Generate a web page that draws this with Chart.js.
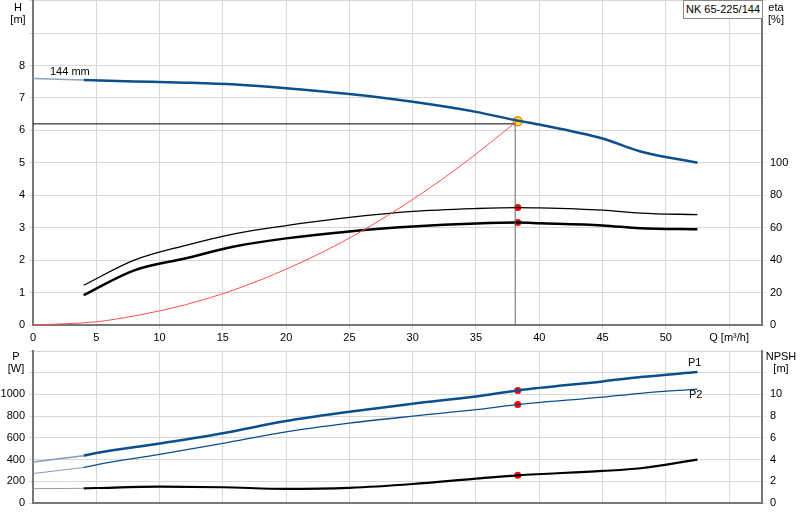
<!DOCTYPE html><html><head><meta charset="utf-8">
<script src="https://cdn.jsdelivr.net/npm/chart.js@4"></script>
<style>body{margin:0;background:#fff;font-family:"Liberation Sans",Arial,sans-serif;overflow:hidden}
#c1{position:absolute;left:0;top:-10px}#c2{position:absolute;left:0;top:340px}
.t{position:absolute;font-size:11px;color:#000;line-height:12px;text-align:center}
#box{position:absolute;left:683px;top:0;width:78px;height:17px;border:1px solid #888;font-size:11px;line-height:17px;text-align:center;background:#fff}
</style></head><body>
<canvas id="c1" width="800" height="354"></canvas>
<canvas id="c2" width="800" height="180"></canvas>
<div id="box">NK 65-225/144</div>
<div class="t" style="left:10px;top:1px;width:16px">H<br>[m]</div>
<div class="t" style="left:766px;top:1px;width:20px">eta<br>[%]</div>
<div class="t" style="left:6px;top:350px;width:20px">P<br>[W]</div>
<div class="t" style="left:764px;top:350px;width:34px">NPSH<br>[m]</div>
<div class="t" style="left:688px;top:356px">P1</div>
<div class="t" style="left:689px;top:388px">P2</div>
<div class="t" style="left:50px;top:65px">144 mm</div>
<script>
const Q=[4,8,12,16,20,25,30,35,38.3,40,45,48,52.5];
const H=[7.55,7.51,7.47,7.41,7.3,7.12,6.88,6.57,6.3,6.18,5.75,5.35,5.0];
const etaP=[24.5,40,49,56.4,61.3,66.3,70,71.8,72.4,72.2,70.8,69,68];
const etaE=[18.4,33.7,41,48.5,53.4,57.7,60.7,62.6,63.2,62.8,61.4,59.6,59];
const sysQ=[0,5,8,12,16,20,23,26,30,34,38.3];
const sysH=[0,0.1,0.28,0.62,1.1,1.72,2.27,2.9,3.87,4.97,6.3];
const Q2=[4,5,10,15,20,25,30,35,38.3,45,48,52.5];
const P1=[435,460,548,642,755,840,915,980,1037,1120,1160,1206];
const P2=[327,352,447,549,655,735,800,860,907,975,1010,1049];
const NPSH=[1.35,1.38,1.5,1.45,1.3,1.4,1.75,2.25,2.55,2.95,3.2,4.0];
const lead={q:[0,4],H:[7.6,7.55],P1:[377,435],P2:[271,327],N:[1.32,1.35]};
const duty={q:38.3,H:6.28,refH:6.2,refQ:38.1,etaP:72.4,etaE:63.2,P1:1037,P2:907,N:2.55};
const xy=(a,b)=>a.map((v,i)=>({x:v,y:b[i]}));
const F={family:"'Liberation Sans',Arial,sans-serif",size:11};
Chart.defaults.font=F;Chart.defaults.color='#000';
const blue='#0b4f8c';
const fitW=w=>(s)=>{s.width=w};
const L=(data,c,w,ax,extra)=>Object.assign({type:'line',data,borderColor:c,backgroundColor:c,borderWidth:w,pointRadius:0,yAxisID:ax,cubicInterpolationMode:'monotone',fill:false},extra||{});
new Chart(document.getElementById('c1'),{type:'line',data:{datasets:[
 L(xy(lead.q,lead.H),'#8aa4c4',1.5,'y'),
 L(xy(Q,H),blue,2.5,'y'),
 L(xy(sysQ,sysH),'#ff5050',1,'y'),
 L(xy([0,duty.refQ],[duty.refH,duty.refH]),'#000',1,'y'),
 L(xy([duty.refQ,duty.refQ],[0,duty.refH]),'#666',1,'y'),
 L(xy(Q,etaP),'#000',1.3,'y2'),
 L(xy(Q,etaE),'#000',2.5,'y2'),
 L([{x:duty.q,y:duty.etaP},{x:duty.q,y:duty.etaE}],'red',0,'y2',{showLine:false,pointRadius:3.5}),
 L([{x:duty.q,y:duty.H}],'#f0a000',0,'y',{showLine:false,pointRadius:4.5,pointBackgroundColor:'#ffe040',pointBorderColor:'#e08000',pointBorderWidth:1.2})
]},options:{animation:false,responsive:false,events:[],layout:{padding:{top:1,bottom:0,left:0,right:0}},
plugins:{legend:{display:false},tooltip:{enabled:false}},
scales:{x:{type:'linear',min:0,max:57.6,afterFit:s=>{s.height=19},afterBuildTicks:s=>{s.ticks=[0,5,10,15,20,25,30,35,40,45,50,55].map(v=>({value:v}))},
 ticks:{autoSkip:false,maxRotation:0,padding:2,callback:v=>v==55?'Q [m³/h]':v},grid:{color:'#d8d8d8',tickLength:4},border:{color:'#777',width:2}},
 y:{position:'left',min:0,max:10,afterFit:fitW(33),ticks:{stepSize:1,padding:4,callback:v=>v<=8?v:''},grid:{color:'#d8d8d8',tickLength:4},border:{color:'#777',width:2}},
 y2:{position:'right',min:0,max:200,afterFit:fitW(38),ticks:{stepSize:20,padding:4,callback:v=>v<=100?v:''},grid:{display:true,drawOnChartArea:false,tickLength:4},border:{color:'#777',width:2}}}}});
new Chart(document.getElementById('c2'),{type:'line',data:{datasets:[
 L(xy(lead.q,lead.P1),'#7f9cc0',1.5,'y'),
 L(xy(lead.q,lead.P2),'#7f9cc0',1,'y'),
 L(xy(lead.q,lead.N),'#999',1,'y2'),
 L(xy(Q2,P1),blue,2.5,'y'),
 L(xy(Q2,P2),blue,1.3,'y'),
 L(xy(Q2,NPSH),'#000',2.2,'y2'),
 L([{x:duty.q,y:duty.P1},{x:duty.q,y:duty.P2}],'red',0,'y',{showLine:false,pointRadius:3.5}),
 L([{x:duty.q,y:duty.N}],'red',0,'y2',{showLine:false,pointRadius:3.5})
]},options:{animation:false,responsive:false,events:[],layout:{padding:{top:11,bottom:0}},
plugins:{legend:{display:false},tooltip:{enabled:false}},
scales:{x:{type:'linear',min:0,max:57.6,afterFit:s=>{s.height=17},afterBuildTicks:s=>{s.ticks=[0,5,10,15,20,25,30,35,40,45,50,55].map(v=>({value:v}))},
 ticks:{display:false},grid:{color:'#d8d8d8',tickLength:0},border:{color:'#777',width:2}},
 y:{position:'left',min:0,max:1400,afterFit:fitW(33),ticks:{stepSize:200,padding:4,callback:v=>v<=1000?v:''},grid:{color:'#d8d8d8',tickLength:4},border:{color:'#777',width:2}},
 y2:{position:'right',min:0,max:14,afterFit:fitW(38),ticks:{stepSize:2,padding:4,callback:v=>v<=10?v:''},grid:{display:true,drawOnChartArea:false,tickLength:4},border:{color:'#777',width:2}}}}});
</script></body></html>
